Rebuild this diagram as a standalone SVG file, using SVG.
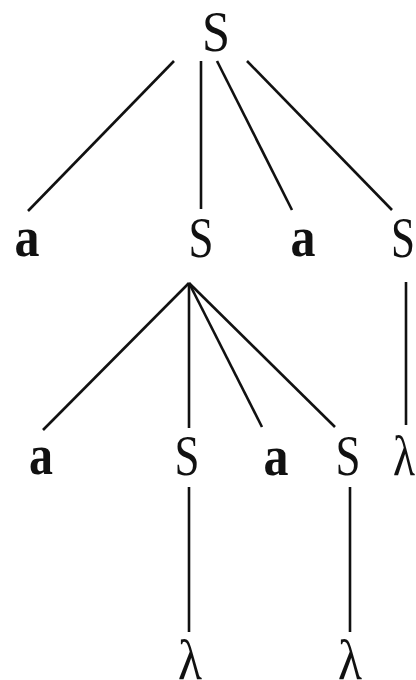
<svg xmlns="http://www.w3.org/2000/svg" width="416" height="680" viewBox="0 0 416 680">
<style>
.S{font-family:"Liberation Serif","DejaVu Serif",serif;font-size:58px;fill:#111;}
.a{font-family:"Liberation Serif","DejaVu Serif",serif;font-weight:bold;font-size:58px;fill:#111;}
.l{font-family:"Liberation Serif","DejaVu Serif",serif;font-size:58px;fill:#111;}
.e{stroke:#111;stroke-width:2.6;fill:none;stroke-linecap:butt;}
</style>
<rect width="416" height="680" fill="#fff"/>
<g id="connectors">
<line class="e" x1="174" y1="61" x2="28" y2="211"/>
<line class="e" x1="201" y1="61" x2="201" y2="209"/>
<line class="e" x1="217" y1="61" x2="292" y2="210"/>
<line class="e" x1="247" y1="61" x2="392" y2="210"/>
<line class="e" x1="189" y1="283" x2="43" y2="430"/>
<line class="e" x1="189" y1="283" x2="189" y2="428"/>
<line class="e" x1="189" y1="283" x2="262" y2="427"/>
<line class="e" x1="189" y1="283" x2="335" y2="427"/>
<line class="e" x1="406" y1="282" x2="406" y2="425"/>
<line class="e" x1="189" y1="487" x2="189" y2="632"/>
<line class="e" x1="350" y1="487" x2="350" y2="632"/>
</g>
<g id="n0"><text class="S" x="216" y="51" font-size="55" text-anchor="middle" textLength="28" lengthAdjust="spacingAndGlyphs">S</text></g>
<g id="n1"><text class="a" x="27" y="256" text-anchor="middle" textLength="25" lengthAdjust="spacingAndGlyphs">a</text></g>
<g id="n2"><text class="S" x="201" y="257" text-anchor="middle" textLength="25" lengthAdjust="spacingAndGlyphs">S</text></g>
<g id="n3"><text class="a" x="303" y="256" text-anchor="middle" textLength="25" lengthAdjust="spacingAndGlyphs">a</text></g>
<g id="n4"><text class="S" x="403" y="257" text-anchor="middle" textLength="24" lengthAdjust="spacingAndGlyphs">S</text></g>
<g id="n5"><text class="a" x="41" y="474" text-anchor="middle" textLength="24" lengthAdjust="spacingAndGlyphs">a</text></g>
<g id="n6"><text class="S" x="187" y="475" text-anchor="middle" textLength="25" lengthAdjust="spacingAndGlyphs">S</text></g>
<g id="n7"><text class="a" x="276" y="475" text-anchor="middle" textLength="25" lengthAdjust="spacingAndGlyphs">a</text></g>
<g id="n8"><text class="S" x="348" y="475" text-anchor="middle" textLength="25" lengthAdjust="spacingAndGlyphs">S</text></g>
<g id="n9"><text class="l" x="404" y="475" text-anchor="middle" textLength="22" lengthAdjust="spacingAndGlyphs">λ</text></g>
<g id="n10"><text class="l" x="190" y="679" text-anchor="middle" textLength="24" lengthAdjust="spacingAndGlyphs">λ</text></g>
<g id="n11"><text class="l" x="350" y="679" text-anchor="middle" textLength="24" lengthAdjust="spacingAndGlyphs">λ</text></g>
</svg>
